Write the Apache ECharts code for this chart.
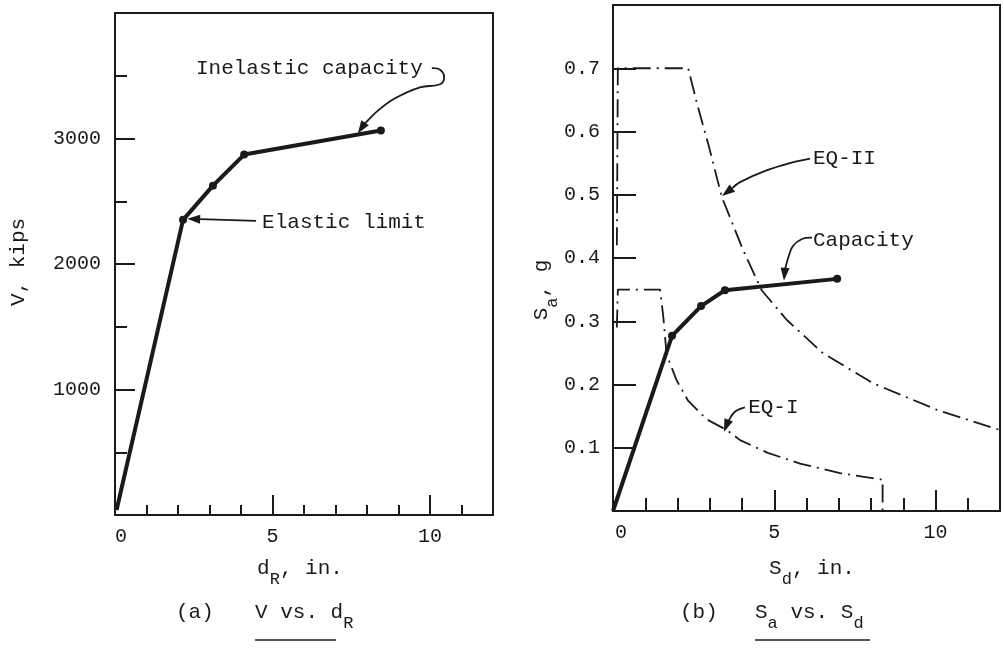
<!DOCTYPE html>
<html><head><meta charset="utf-8">
<script src="https://cdn.jsdelivr.net/npm/echarts@6/dist/echarts.min.js"></script>
<style>html,body{margin:0;padding:0;background:#fff}#c{width:1004px;height:651px}</style>
</head><body><div id="c"></div>
<script>
// ---- data (a) V vs dR ----
const dR = [0.05, 2.16, 3.11, 4.10, 8.44];
const V  = [40, 2352, 2624, 2872, 3064];
// ---- data (b) Sa vs Sd ----
const capSd = [0, 1.83, 2.73, 3.47, 6.95];
const capSa = [0, 0.277, 0.324, 0.349, 0.367];
const eq2Sd = [0.12, 0.15, 2.33, 2.60, 2.96, 3.37, 4.03, 4.61, 5.39, 6.50, 8.06, 10.04, 12.0];
const eq2Sa = [0.42, 0.70, 0.70, 0.645, 0.579, 0.497, 0.413, 0.349, 0.302, 0.250, 0.202, 0.160, 0.128];
const eq1Sd = [0.12, 0.15, 1.46, 1.56, 1.66, 1.97, 2.32, 2.90, 3.53, 3.94, 4.80, 5.80, 7.04, 8.28, 8.36, 8.36];
const eq1Sa = [0.29, 0.35, 0.35, 0.307, 0.248, 0.207, 0.175, 0.145, 0.128, 0.112, 0.092, 0.075, 0.060, 0.050, 0.050, 0.0];
// ---- annotations (data coordinates) ----
const annA = [
  {text: 'Elastic limit', at: [4.67, 2328], path: [[4.48, 2344], [2.29, 2360]]},
  {text: 'Inelastic capacity', at: [2.57, 3560], path: [[10.06, 3560], [10.32, 3548], [10.45, 3488], [10.32, 3432], [9.68, 3408], [8.89, 3320], [8.32, 3216], [7.90, 3112], [7.71, 3040]]}
];
const annB = [
  {text: 'EQ-II', at: [6.20, 0.558], path: [[6.11, 0.557], [5.49, 0.550], [4.74, 0.538], [3.94, 0.520], [3.38, 0.498]]},
  {text: 'Capacity', at: [6.20, 0.428], path: [[6.17, 0.432], [5.86, 0.430], [5.58, 0.419], [5.43, 0.400], [5.33, 0.381], [5.30, 0.364]]},
  {text: 'EQ-I', at: [4.19, 0.163], path: [[4.09, 0.164], [3.78, 0.157], [3.57, 0.142], [3.44, 0.125]]}
];

const FF = "'Liberation Mono', 'DejaVu Sans Mono', monospace";
const INK = '#1a1a1a';
const zip = (a, b) => a.map((v, i) => [v, b[i]]);
const dashDot = [18, 6, 2, 6];

const chart = echarts.init(document.getElementById('c'));

function xAxisCfg(gi, majLen, minLen, zeroPad) {
  return {
    type: 'value', gridIndex: gi, min: 0, max: 12, interval: 5,
    axisLine: {show: true, lineStyle: {color: INK, width: 2}},
    axisTick: {show: true, inside: true, length: majLen, lineStyle: {color: INK, width: 2}},
    minorTick: {show: true, splitNumber: 5, length: minLen, lineStyle: {color: INK, width: 2}},
    splitLine: {show: false}, minorSplitLine: {show: false},
    axisLabel: {margin: 12, color: INK, fontFamily: FF, fontSize: 20,
      rich: {z: {fontFamily: FF, fontSize: 20, color: INK, padding: [0, 0, 0, zeroPad]}},
      formatter: v => v === 0 ? '{z|0}' : ((v % 5 === 0 && v <= 10) ? String(v) : '')}
  };
}

const option = {
  animation: false,
  backgroundColor: '#fff',
  grid: [
    {left: 115, top: 13, width: 378, height: 502, show: true, borderColor: INK, borderWidth: 2},
    {left: 613, top: 5, width: 387, height: 506, show: true, borderColor: INK, borderWidth: 2}
  ],
  xAxis: [xAxisCfg(0, 20, 10, 12), xAxisCfg(1, 21, 13, 16)],
  yAxis: [
    {type: 'value', gridIndex: 0, min: 0, max: 4000, interval: 1000,
      axisLine: {show: true, lineStyle: {color: INK, width: 2}},
      axisTick: {show: true, inside: true, length: 20, lineStyle: {color: INK, width: 2}},
      minorTick: {show: true, splitNumber: 2, length: 12, lineStyle: {color: INK, width: 2}},
      splitLine: {show: false}, minorSplitLine: {show: false},
      axisLabel: {margin: 14, color: INK, fontFamily: FF, fontSize: 20,
        formatter: v => (v === 0 || v === 4000) ? '' : String(v)}},
    {type: 'value', gridIndex: 1, min: 0, max: 0.8, interval: 0.1,
      axisLine: {show: true, lineStyle: {color: INK, width: 2}},
      axisTick: {show: true, inside: true, length: 23, lineStyle: {color: INK, width: 2}},
      splitLine: {show: false},
      axisLabel: {margin: 13, color: INK, fontFamily: FF, fontSize: 20,
        formatter: v => (v < 0.05 || v > 0.75) ? '' : v.toFixed(1)}}
  ],
  series: [
    {type: 'line', xAxisIndex: 0, yAxisIndex: 0, data: zip(dR, V),
      symbol: 'circle', symbolSize: (v, p) => p.dataIndex === 0 ? 0 : 8,
      itemStyle: {color: INK}, lineStyle: {color: INK, width: 4}},
    {type: 'line', xAxisIndex: 1, yAxisIndex: 1, data: zip(eq2Sd, eq2Sa), showSymbol: false,
      lineStyle: {color: INK, width: 1.8, type: dashDot}},
    {type: 'line', xAxisIndex: 1, yAxisIndex: 1, data: zip(eq1Sd, eq1Sa), showSymbol: false,
      lineStyle: {color: INK, width: 1.8, type: dashDot}},
    {type: 'line', xAxisIndex: 1, yAxisIndex: 1, data: zip(capSd, capSa),
      symbol: 'circle', symbolSize: (v, p) => p.dataIndex === 0 ? 0 : 8,
      itemStyle: {color: INK}, lineStyle: {color: INK, width: 4}}
  ]
};
chart.setOption(option);

// ---- annotations, captions and axis titles ----
const rich = {
  n: {fontFamily: FF, fontSize: 21, fill: INK, color: INK},
  s: {fontFamily: FF, fontSize: 17, fill: INK, color: INK, padding: [22, 0, 0, 0]}
};
const g = [];
function addAnn(list, gi) {
  list.forEach(a => {
    const p = chart.convertToPixel({gridIndex: gi}, a.at);
    g.push({type: 'text', x: p[0], y: p[1], style: {text: a.text, font: `21px ${FF}`, fill: INK, align: 'left', verticalAlign: 'middle'}});
    const pts = a.path.map(q => chart.convertToPixel({gridIndex: gi}, q));
    const n = pts.length;
    const tip = pts[n - 1], prev = pts[n - 2];
    const dx = tip[0] - prev[0], dy = tip[1] - prev[1];
    const L = Math.hypot(dx, dy), ux = dx / L, uy = dy / L;
    const hl = 13, hw = 4.5;
    const base = [tip[0] - ux * hl, tip[1] - uy * hl];
    const linePts = pts.slice(0, n - 1).concat([base]);
    g.push({type: 'polyline', shape: {points: linePts, smooth: n > 2 ? 0.4 : 0}, style: {stroke: INK, lineWidth: 1.8, fill: null}});
    g.push({type: 'polygon', shape: {points: [tip, [base[0] - uy * hw, base[1] + ux * hw], [base[0] + uy * hw, base[1] - ux * hw]]}, style: {fill: INK}});
  });
}
addAnn(annA, 0);
addAnn(annB, 1);

function richText(x, y, text, rot, align) {
  return {type: 'text', x: x, y: y, rotation: rot || 0,
    style: {text: text, rich: rich, font: `21px ${FF}`, fill: INK, align: align || 'center', verticalAlign: 'middle'}};
}
g.push(richText(18, 262, '{n|V, kips}', Math.PI / 2));
g.push(richText(541, 290, '{n|S}{s|a}{n|, g}', Math.PI / 2));
g.push(richText(300, 568, '{n|d}{s|R}{n|, in.}'));
g.push(richText(812, 568, '{n|S}{s|d}{n|, in.}'));
g.push(richText(176, 612, '{n|(a)}', 0, 'left'));
g.push(richText(255, 612, '{n|V vs. d}{s|R}', 0, 'left'));
g.push(richText(680, 612, '{n|(b)}', 0, 'left'));
g.push(richText(755, 612, '{n|S}{s|a}{n| vs. S}{s|d}', 0, 'left'));
g.push({type: 'line', shape: {x1: 255, y1: 640, x2: 336, y2: 640}, style: {stroke: INK, lineWidth: 1.5}});
g.push({type: 'line', shape: {x1: 755, y1: 640, x2: 870, y2: 640}, style: {stroke: INK, lineWidth: 1.5}});
chart.setOption({graphic: {elements: g}});
</script>
</body></html>
